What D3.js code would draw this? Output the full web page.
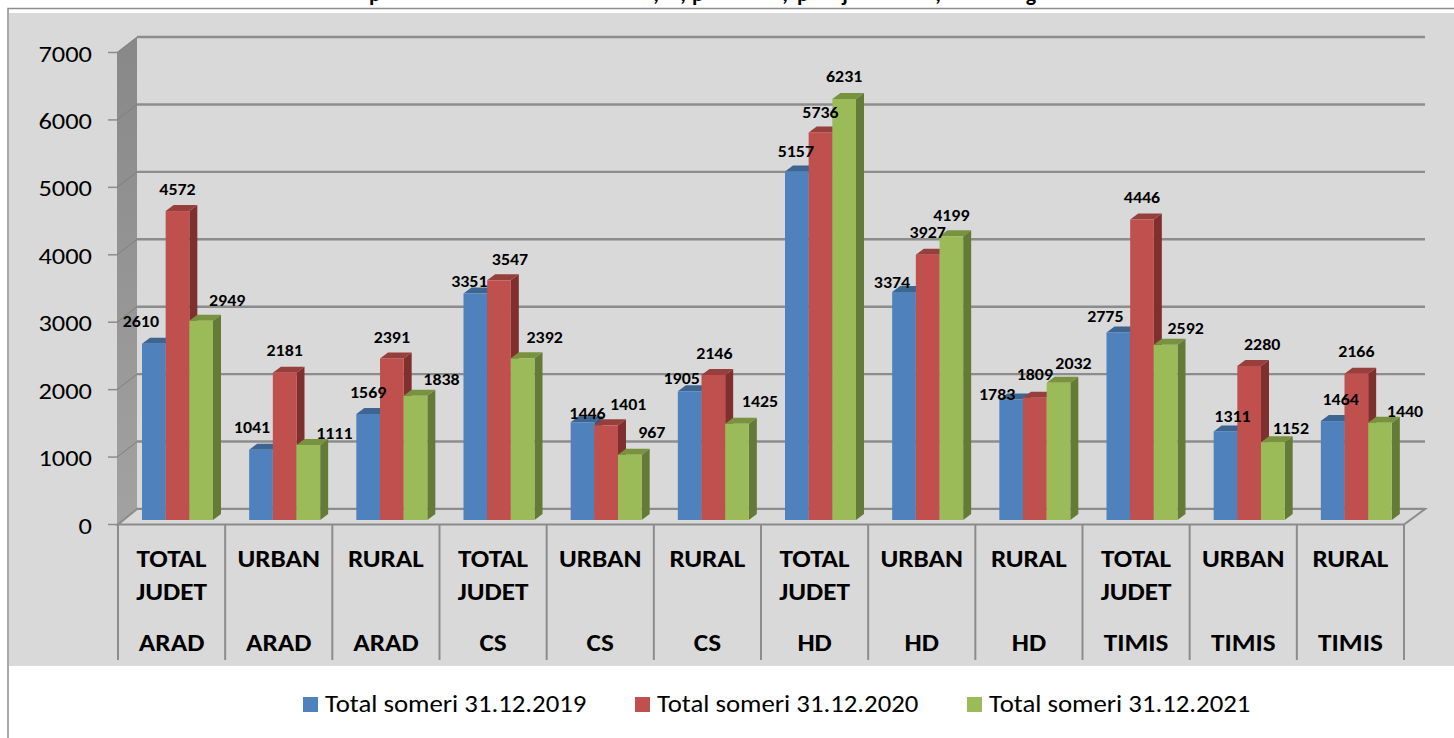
<!DOCTYPE html>
<html><head><meta charset="utf-8">
<script src="https://cdnjs.cloudflare.com/ajax/libs/d3/7.8.5/d3.min.js"></script>
<style>html,body{margin:0;padding:0;background:#fff;overflow:hidden}svg{display:block}text{font-family:Carlito,Calibri,Lato,"Open Sans",sans-serif}</style>
</head><body><svg id="c" width="1454" height="738"></svg>
<script>
// Only the descenders of the reference's cropped title are visible: these glyphs are all that can be read.
const titleGlyphs = ["p",",",",","p",",","p","j",",","g"];
const categories = ["TOTAL JUDET","URBAN","RURAL","TOTAL JUDET","URBAN","RURAL","TOTAL JUDET","URBAN","RURAL","TOTAL JUDET","URBAN","RURAL"];
const counties = ["ARAD","ARAD","ARAD","CS","CS","CS","HD","HD","HD","TIMIS","TIMIS","TIMIS"];
const seriesNames = ["Total someri 31.12.2019","Total someri 31.12.2020","Total someri 31.12.2021"];
const s2019 = [2610,1041,1569,3351,1446,1905,5157,3374,1783,2775,1311,1464];
const s2020 = [4572,2181,2391,3547,1401,2146,5736,3927,1809,4446,2280,2166];
const s2021 = [2949,1111,1838,2392,967,1425,6231,4199,2032,2592,1152,1440];
const yTicks = [0,1000,2000,3000,4000,5000,6000,7000];
const colors = ["#4f81bd","#c0504d","#9bbb59"];
const tops = ["#3d6591","#963f3c","#78923f"];
const sides = ["#355780","#7f302e","#647a37"];
// layout only: label nudges from each bar's top centre
const titleX = [375,656,683,698,785,803,845,938,1031];
const labelDx = [[-13,0,26],[-9,0,26],[0,0,26],[-6,11,22],[5,22,22],[-8,1,23],[-1,0,0],[-12,0,0],[-14,0,15],[-13,0,20],[7,13,18],[8,0,25]];
const labelDy = [[-22,-22,-20],[-22,-22,-11],[-21,-21,-16],[-12,-21,-21],[-9,-21,-22],[-13,-21,-22],[-20,-20,-22],[-10,-22,-21],[-5,-23,-19],[-16,-22,-16],[-15,-21,-14],[-22,-22,-11]];

const svg = d3.select("#c");
const series=[s2019,s2020,s2021];
const x0=d3.scaleBand().domain(d3.range(12)).range([118,1404]);
const x1=d3.scaleBand().domain([0,1,2]).range([24,95]);
const yF=d3.scaleLinear().domain([0,7000]).range([524.5,52.5]);
const yB=d3.scaleLinear().domain([0,7000]).range([509,37]);
const yBar=d3.scaleLinear().domain([0,7000]).range([520,47]);
const D=8,Dy=6;
function put(x,y,str,size,weight,sx,anchor){
  return svg.append("text").attr("transform",`translate(${x},${y}) scale(${sx},1)`)
    .attr("text-anchor",anchor).attr("font-size",size).attr("font-weight",weight).attr("fill","#000").text(str);
}
const defs=svg.append("defs");
const g=defs.append("linearGradient").attr("id","wall").attr("x1",0).attr("x2",0).attr("y1",0).attr("y2",1);
g.append("stop").attr("offset","0").attr("stop-color","#888888");
g.append("stop").attr("offset","1").attr("stop-color","#a2a2a2");
// frame
svg.append("rect").attr("x",8).attr("y",8.5).attr("width",1460).attr("height",740).attr("fill","#fff").attr("stroke","#8c8c8c").attr("stroke-width",1.5);
svg.append("rect").attr("x",9).attr("y",13).attr("width",1445).attr("height",653).attr("fill","#d9d9d9");
titleGlyphs.forEach((c,i)=>put(titleX[i],1,c,22,700,1,"middle"));
// wall side
svg.append("polygon").attr("points",[[117,yF(7000)],[137,yB(7000)],[137,yB(0)],[117,yF(0)]].join(" ")).attr("fill","url(#wall)");
// gridlines and ticks
yTicks.forEach(t=>{
 svg.append("line").attr("x1",137).attr("x2",1425).attr("y1",yB(t)).attr("y2",yB(t)).attr("stroke","#8c8c8c").attr("stroke-width",2.4);
 svg.append("line").attr("x1",117).attr("x2",137).attr("y1",yF(t)).attr("y2",yB(t)).attr("stroke","#7f7f7f").attr("stroke-width",1);
 svg.append("line").attr("x1",108).attr("x2",117).attr("y1",yF(t)).attr("y2",yF(t)).attr("stroke","#8c8c8c").attr("stroke-width",1.5);
 put(92,yF(t)+9,t,23,400,1.15,"end");
});
// floor
svg.append("polygon").attr("points",[[118,yF(0)],[137,yB(0)],[1425,yB(0)],[1404,yF(0)]].join(" ")).attr("fill","#d9d9d9").attr("stroke","#8c8c8c").attr("stroke-width",2);
// category dividers
d3.range(13).forEach(i=>{const x=i<12?x0(i):x0(11)+x0.step();
 svg.append("line").attr("x1",x).attr("x2",x).attr("y1",524).attr("y2",660).attr("stroke","#8c8c8c").attr("stroke-width",2);});
// bars
d3.range(12).forEach(i=>{
 [0,1,2].forEach(s=>{
  const v=series[s][i],x=x0(i)+x1(s),w=x1.bandwidth(),y=yBar(v),b=yBar(0);
  svg.append("polygon").attr("points",[[x+w,y],[x+w+D,y-Dy],[x+w+D,b-Dy],[x+w,b]].join(" ")).attr("fill",sides[s]);
  svg.append("polygon").attr("points",[[x,y],[x+D,y-Dy],[x+w+D,y-Dy],[x+w,y]].join(" ")).attr("fill",tops[s]);
  svg.append("rect").attr("x",x).attr("y",y).attr("width",w).attr("height",b-y).attr("fill",colors[s]);
 });
});
// labels
d3.range(12).forEach(i=>{
 [0,1,2].forEach(s=>{
  const v=series[s][i],x=x0(i)+x1(s)+x1.bandwidth()/2;
  put(x+labelDx[i][s],yBar(v)+labelDy[i][s]+5.5,v,16,700,1.12,"middle");
 });
 const cx=x0(i)+x0.step()/2;
 categories[i].split(" ").forEach((p,k)=>put(cx,567+k*33,p,23.5,700,1.16,"middle"));
 put(cx,651,counties[i],23.5,700,1.16,"middle");
});
// legend
const legX=[303,635,967];
seriesNames.forEach((n,i)=>{
 svg.append("rect").attr("x",legX[i]).attr("y",697).attr("width",15).attr("height",15).attr("fill",colors[i]);
 put(legX[i]+22,712,n,23.5,400,1.14,"start");
});
</script></body></html>
